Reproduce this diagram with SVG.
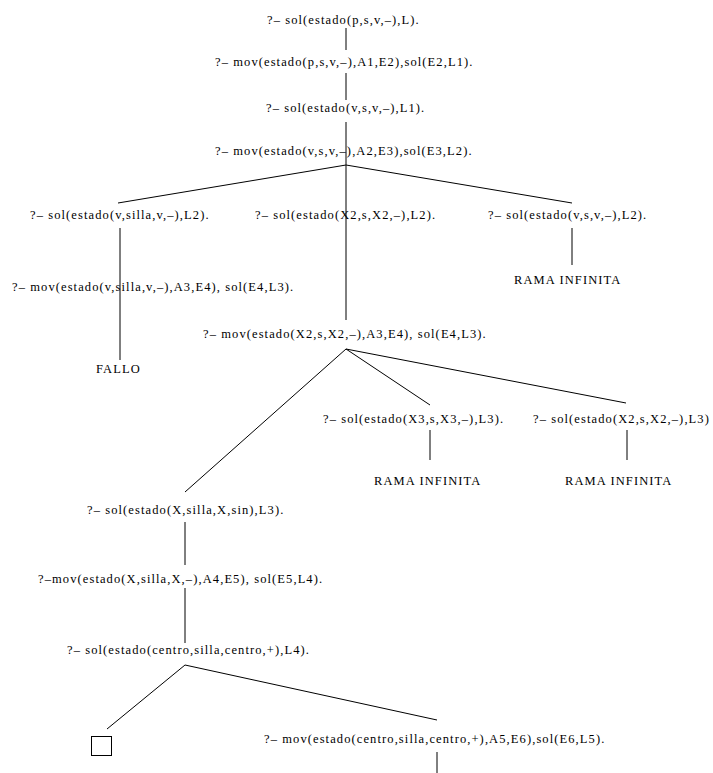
<svg xmlns="http://www.w3.org/2000/svg" width="713" height="773" viewBox="0 0 713 773">
<style>
text { font-family: "Liberation Serif", "Times New Roman", serif; font-size: 12.5px; letter-spacing: 1.1px; fill: #000; }
.c line { stroke: #000; stroke-width: 1; }
.box { fill: none; stroke: #000; stroke-width: 1; }
</style>
<rect width="713" height="773" fill="#fff"/>
<g id="connectors" class="c">
<line x1="346" y1="28" x2="346" y2="50"/>
<line x1="346" y1="73" x2="346" y2="100"/>
<line x1="346" y1="122" x2="346" y2="165"/>
<line x1="346" y1="165" x2="118" y2="203"/>
<line x1="346" y1="165" x2="346" y2="320"/>
<line x1="346" y1="165" x2="572" y2="203"/>
<line x1="120" y1="228" x2="120" y2="360"/>
<line x1="572" y1="228" x2="572" y2="265"/>
<line x1="346" y1="349" x2="185" y2="492"/>
<line x1="346" y1="349" x2="430" y2="405"/>
<line x1="346" y1="349" x2="626" y2="403"/>
<line x1="430" y1="430" x2="430" y2="460"/>
<line x1="627" y1="430" x2="627" y2="460"/>
<line x1="185" y1="522" x2="185" y2="565"/>
<line x1="185" y1="588" x2="185" y2="643"/>
<line x1="185" y1="665" x2="107" y2="729"/>
<line x1="185" y1="665" x2="437" y2="720"/>
<line x1="437" y1="752" x2="437" y2="773"/>
</g>
<g id="n1"><text x="267" y="24">?– sol(estado(p,s,v,–),L).</text></g>
<g id="n2"><text x="215" y="66">?– mov(estado(p,s,v,–),A1,E2),sol(E2,L1).</text></g>
<g id="n3"><text x="266" y="112">?– sol(estado(v,s,v,–),L1).</text></g>
<g id="n4"><text x="215" y="155">?– mov(estado(v,s,v,–),A2,E3),sol(E3,L2).</text></g>
<g id="n5"><text x="30" y="219">?– sol(estado(v,silla,v,–),L2).</text></g>
<g id="n6"><text x="255" y="219">?– sol(estado(X2,s,X2,–),L2).</text></g>
<g id="n7"><text x="488" y="219">?– sol(estado(v,s,v,–),L2).</text></g>
<g id="n8"><text x="12" y="291">?– mov(estado(v,silla,v,–),A3,E4), sol(E4,L3).</text></g>
<g id="n9"><text x="514" y="284">RAMA INFINITA</text></g>
<g id="n10"><text x="96" y="373">FALLO</text></g>
<g id="n11"><text x="203" y="338">?– mov(estado(X2,s,X2,–),A3,E4), sol(E4,L3).</text></g>
<g id="n12"><text x="323" y="423">?– sol(estado(X3,s,X3,–),L3).</text></g>
<g id="n13"><text x="533" y="423">?– sol(estado(X2,s,X2,–),L3)</text></g>
<g id="n14"><text x="374" y="485">RAMA INFINITA</text></g>
<g id="n15"><text x="565" y="485">RAMA INFINITA</text></g>
<g id="n16"><text x="87" y="514">?– sol(estado(X,silla,X,sin),L3).</text></g>
<g id="n17"><text x="38" y="583">?–mov(estado(X,silla,X,–),A4,E5), sol(E5,L4).</text></g>
<g id="n18"><text x="67" y="654">?– sol(estado(centro,silla,centro,+),L4).</text></g>
<g id="n19"><rect class="box" x="91.5" y="736.5" width="20" height="19"/></g>
<g id="n20"><text x="264" y="743">?– mov(estado(centro,silla,centro,+),A5,E6),sol(E6,L5).</text></g>
</svg>
